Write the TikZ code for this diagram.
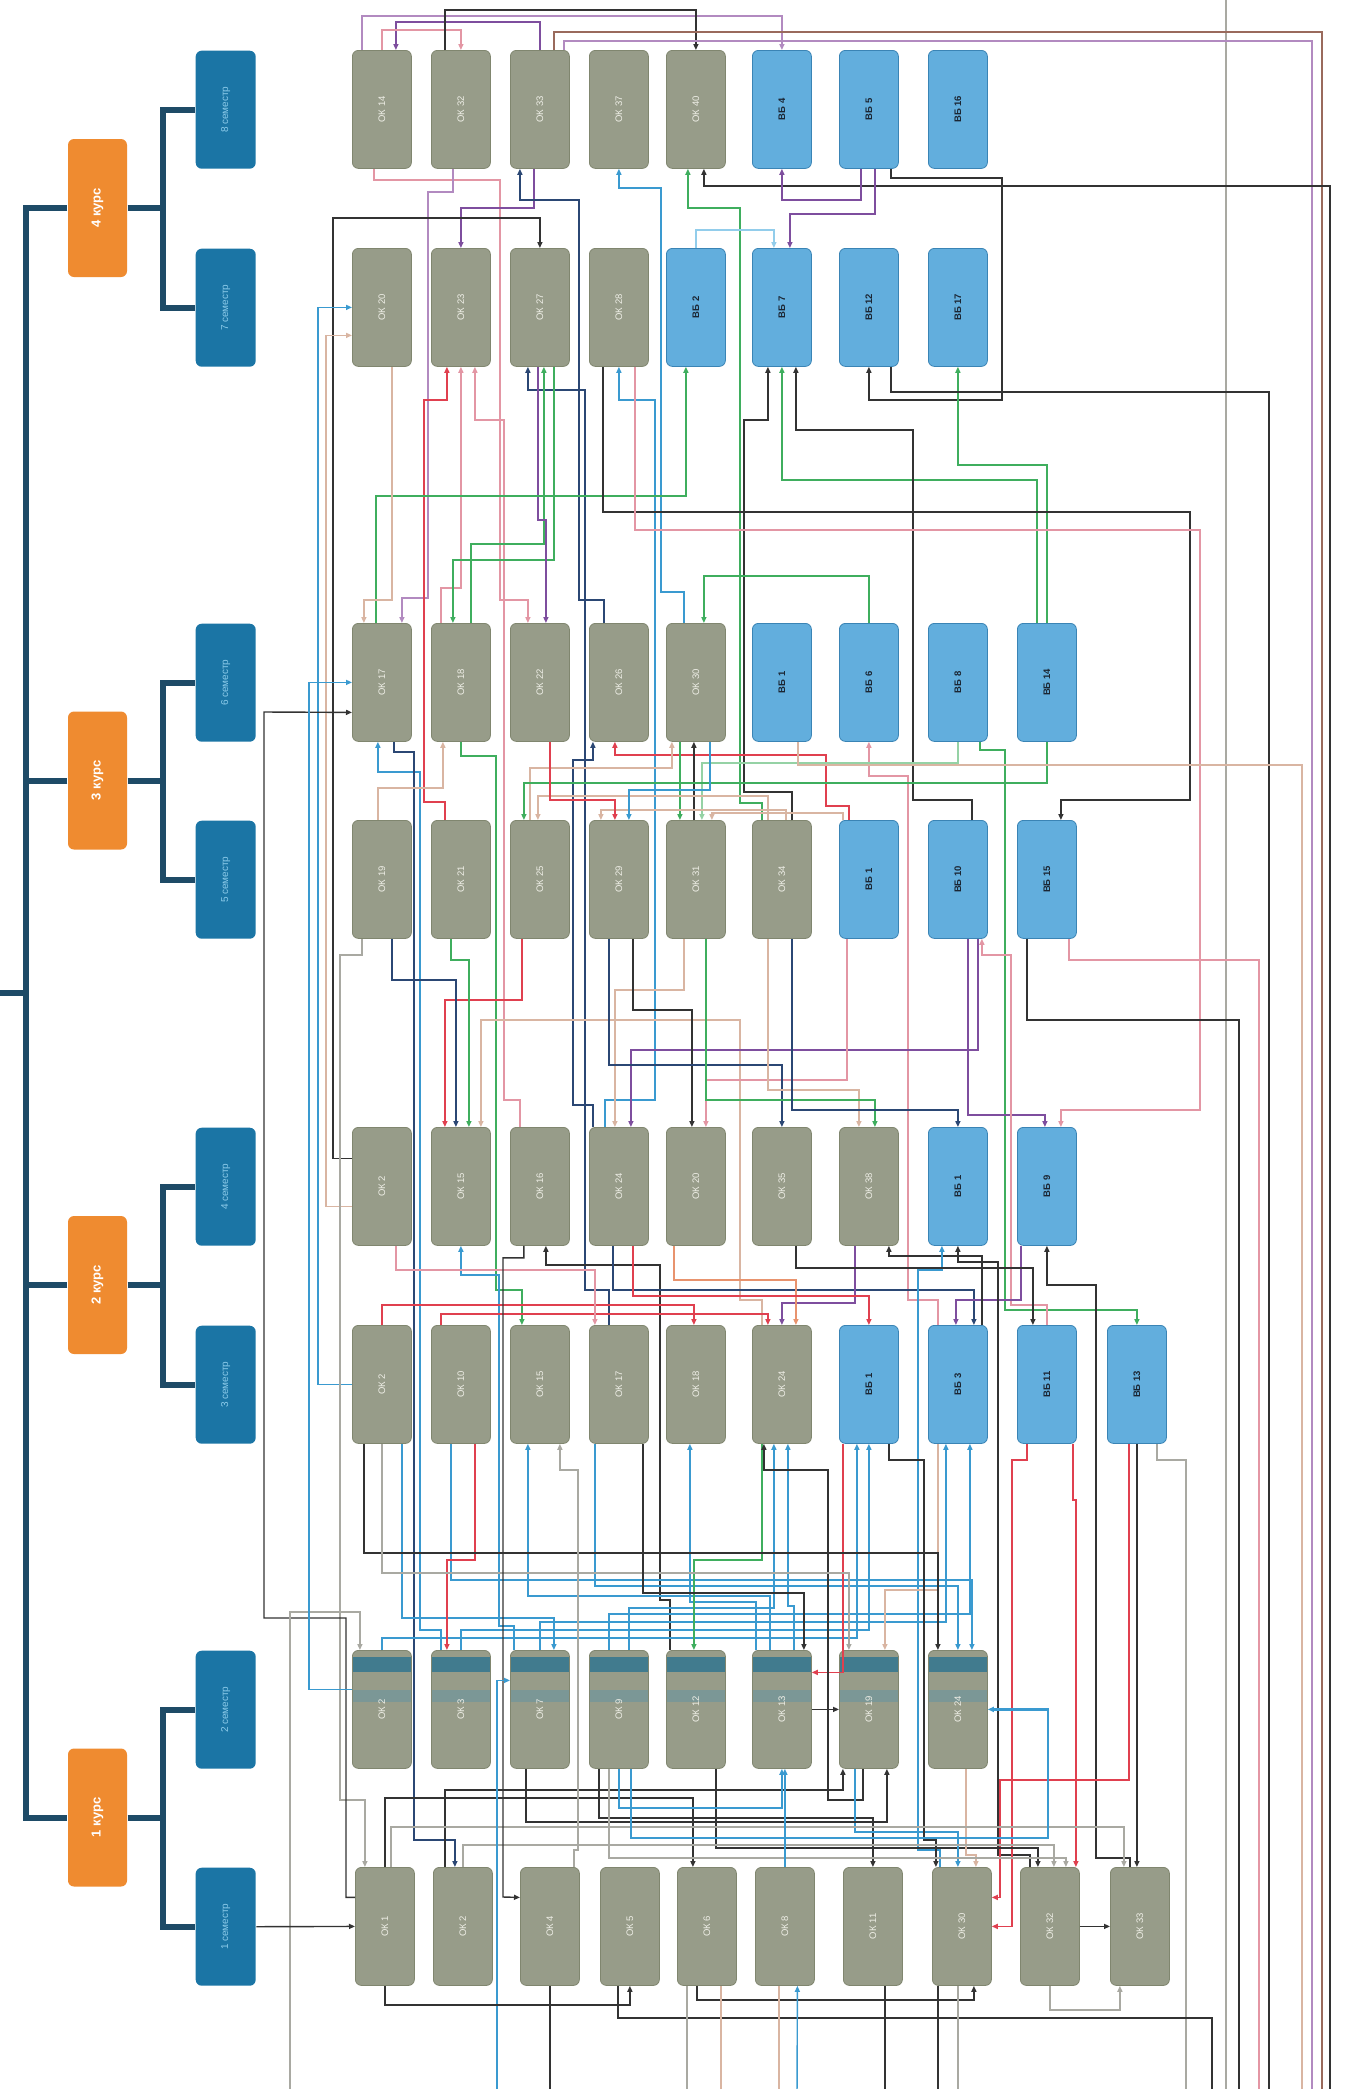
\documentclass[tikz,border=0pt]{standalone}
\usepackage{fontspec}
\setmainfont{Liberation Sans}
\usetikzlibrary{arrows.meta,calc}
\definecolor{okf}{HTML}{979C89}
\definecolor{okb}{HTML}{80866F}
\definecolor{okt}{HTML}{EEEEE6}
\definecolor{vbf}{HTML}{62AEDD}
\definecolor{vbb}{HTML}{3A84B5}
\definecolor{vbt}{HTML}{1B2633}
\definecolor{semf}{HTML}{1B75A5}
\definecolor{semt}{HTML}{8CCBEA}
\definecolor{kurf}{HTML}{EF8B30}
\definecolor{tree}{HTML}{1E4B67}
\definecolor{bandD}{HTML}{2C7390}
\definecolor{bandL}{HTML}{5B93A6}
\definecolor{cblk}{HTML}{333333}
\definecolor{cgry}{HTML}{A9A9A2}
\definecolor{ctan}{HTML}{D9B5A2}
\definecolor{cpnk}{HTML}{E396A4}
\definecolor{cred}{HTML}{E0404F}
\definecolor{cblu}{HTML}{3A9AD0}
\definecolor{clbl}{HTML}{92CDEB}
\definecolor{cgrn}{HTML}{3FAE5E}
\definecolor{clgr}{HTML}{95D2A5}
\definecolor{cpur}{HTML}{7E4E9E}
\definecolor{cpl}{HTML}{B28AC0}
\definecolor{cnav}{HTML}{2B4774}
\definecolor{cbrn}{HTML}{9A6A5C}
\definecolor{corg}{HTML}{E8936E}
\newcommand\rl[1]{\rotatebox{90}{#1}}
\newcommand\lkV[4]{\draw[#1] let \p1=(#2) in (#2) -- (\x1,-#3) -| (#4);}
\newcommand\lkH[4]{\draw[#1] let \p1=(#2) in (#2) -- (#3,\y1) |- (#4);}
\newcommand\lkVV[6]{\draw[#1] let \p1=(#2) in (#2) -- (\x1,-#3) -- (#4,-#3) -- (#4,-#5) -| (#6);}
\newcommand\toB[2]{\draw[#1] let \p1=(#2) in (#2) -- (\x1,-2100);}
\newcommand\okN[4]{\node[okn] (#1) at (#2,-#3) {\rl{#4}};}
\newcommand\vbN[4]{\node[vbn] (#1) at (#2,-#3) {\rl{#4}};}
\newcommand\bdN[4]{\node[bandn] (#1) at (#2,-#3) {\rl{#4}};}
\tikzset{
  okn/.style={draw=okb, line width=0.8pt, fill=okf, rounded corners=6pt, minimum width=59pt, minimum height=118pt, inner sep=0pt, anchor=north west, text=okt, font=\fontsize{9.5}{11}\selectfont},
  vbn/.style={okn, draw=vbb, fill=vbf, text=vbt, font=\fontsize{9.5}{11}\selectfont\bfseries},
  bandn/.style={okn, path picture={
     \fill[bandD, opacity=0.8, sharp corners] ([yshift=-7pt]path picture bounding box.north west) rectangle ([yshift=-22pt]path picture bounding box.north east);
     \fill[bandL, opacity=0.45, sharp corners] ([yshift=-40pt]path picture bounding box.north west) rectangle ([yshift=-52pt]path picture bounding box.north east);}},
  semn/.style={fill=semf, rounded corners=6pt, minimum width=60pt, minimum height=118pt, inner sep=0pt, anchor=north west, text=semt, font=\fontsize{10}{12}\selectfont},
  kurn/.style={fill=kurf, rounded corners=6pt, minimum width=59pt, minimum height=138pt, inner sep=0pt, text=white, font=\fontsize{13}{15}\selectfont\bfseries},
  treeln/.style={draw=tree, line width=6pt},
  arw/.style={-{Triangle[length=6pt,width=5pt]}},
  thk/.style={line width=2.6pt}
}
\begin{document}
\begin{tikzpicture}[x=1pt,y=1pt,line width=1.4pt]
\useasboundingbox (0,0) rectangle (1350,-2089);
\fill[white] (0,0) rectangle (1350,-2089);
\foreach \xx in {290,497,797,1186,1212,1226,1239,1259,1269,1302,1312,1322,1330} {\coordinate (ob\xx) at (\xx,-2100);}
\coordinate (ot1226) at (1226,10);
\coordinate (obase) at (0,-2100);
\coordinate (root) at (-5,-993);
% ---- tree ----
\node[kurn] (k4) at (97.5,-208) {\rl{4 курс}};
\node[kurn] (k3) at (97.5,-780.5) {\rl{3 курс}};
\node[kurn] (k2) at (97.5,-1285) {\rl{2 курс}};
\node[kurn] (k1) at (97.5,-1817.5) {\rl{1 курс}};
\node[semn] (s8) at (195,-50) {\rl{8 семестр}};
\node[semn] (s7) at (195,-248) {\rl{7 семестр}};
\node[semn] (s6) at (195,-623) {\rl{6 семестр}};
\node[semn] (s5) at (195,-820) {\rl{5 семестр}};
\node[semn] (s4) at (195,-1127) {\rl{4 семестр}};
\node[semn] (s3) at (195,-1325) {\rl{3 семестр}};
\node[semn] (s2) at (195,-1650) {\rl{2 семестр}};
\node[semn] (s1) at (195,-1867) {\rl{1 семестр}};
\draw[treeln] (k4.west) -- ++(-41,0) |- (k1.west);
\draw[treeln] (k3.west) -- ++(-41,0);
\draw[treeln] (k2.west) -- ++(-41,0);
\draw[treeln] (root) -- ++(32,0);
\draw[treeln] (k4.east) -- ++(35,0) |- (s8.west);
\draw[treeln] (k4.east) ++(35,0) |- (s7.west);
\draw[treeln] (k3.east) -- ++(35,0) |- (s6.west);
\draw[treeln] (k3.east) ++(35,0) |- (s5.west);
\draw[treeln] (k2.east) -- ++(35,0) |- (s4.west);
\draw[treeln] (k2.east) ++(35,0) |- (s3.west);
\draw[treeln] (k1.east) -- ++(35,0) |- (s2.west);
\draw[treeln] (k1.east) ++(35,0) |- (s1.west);
% ---- nodes ----
\okN{a1}{352}{50}{ОК 14}\okN{a2}{431}{50}{ОК 32}\okN{a3}{510}{50}{ОК 33}\okN{a4}{589}{50}{ОК 37}\okN{a5}{666}{50}{ОК 40}
\vbN{a6}{752}{50}{ВБ 4}\vbN{a7}{839}{50}{ВБ 5}\vbN{a8}{928}{50}{ВБ 16}
\okN{b1}{352}{248}{ОК 20}\okN{b2}{431}{248}{ОК 23}\okN{b3}{510}{248}{ОК 27}\okN{b4}{589}{248}{ОК 28}
\vbN{b5}{666}{248}{ВБ 2}\vbN{b6}{752}{248}{ВБ 7}\vbN{b7}{839}{248}{ВБ 12}\vbN{b8}{928}{248}{ВБ 17}
\okN{c1}{352}{623}{ОК 17}\okN{c2}{431}{623}{ОК 18}\okN{c3}{510}{623}{ОК 22}\okN{c4}{589}{623}{ОК 26}\okN{c5}{666}{623}{ОК 30}
\vbN{c6}{752}{623}{ВБ 1}\vbN{c7}{839}{623}{ВБ 6}\vbN{c8}{928}{623}{ВБ 8}\vbN{c9}{1017}{623}{ВБ 14}
\okN{d1}{352}{820}{ОК 19}\okN{d2}{431}{820}{ОК 21}\okN{d3}{510}{820}{ОК 25}\okN{d4}{589}{820}{ОК 29}\okN{d5}{666}{820}{ОК 31}\okN{d6}{752}{820}{ОК 34}
\vbN{d7}{839}{820}{ВБ 1}\vbN{d8}{928}{820}{ВБ 10}\vbN{d9}{1017}{820}{ВБ 15}
\okN{e1}{352}{1127}{ОК 2}\okN{e2}{431}{1127}{ОК 15}\okN{e3}{510}{1127}{ОК 16}\okN{e4}{589}{1127}{ОК 24}\okN{e5}{666}{1127}{ОК 20}\okN{e6}{752}{1127}{ОК 35}\okN{e7}{839}{1127}{ОК 38}
\vbN{e8}{928}{1127}{ВБ 1}\vbN{e9}{1017}{1127}{ВБ 9}
\okN{f1}{352}{1325}{ОК 2}\okN{f2}{431}{1325}{ОК 10}\okN{f3}{510}{1325}{ОК 15}\okN{f4}{589}{1325}{ОК 17}\okN{f5}{666}{1325}{ОК 18}\okN{f6}{752}{1325}{ОК 24}
\vbN{f7}{839}{1325}{ВБ 1}\vbN{f8}{928}{1325}{ВБ 3}\vbN{f9}{1017}{1325}{ВБ 11}\vbN{f10}{1107}{1325}{ВБ 13}
\bdN{g1}{352}{1650}{ОК 2}\bdN{g2}{431}{1650}{ОК 3}\bdN{g3}{510}{1650}{ОК 7}\bdN{g4}{589}{1650}{ОК 9}\bdN{g5}{666}{1650}{ОК 12}\bdN{g6}{752}{1650}{ОК 13}\bdN{g7}{839}{1650}{ОК 19}\bdN{g8}{928}{1650}{ОК 24}
\okN{h1}{355}{1867}{ОК 1}\okN{h2}{433}{1867}{ОК 2}\okN{h3}{520}{1867}{ОК 4}\okN{h4}{600}{1867}{ОК 5}\okN{h5}{677}{1867}{ОК 6}\okN{h6}{755}{1867}{ОК 8}\okN{h7}{843}{1867}{ОК 11}\okN{h8}{932}{1867}{ОК 30}\okN{h9}{1020}{1867}{ОК 32}\okN{h10}{1110}{1867}{ОК 33}
% ---- right long lines ----
\draw[cgry] (ot1226) -- (ob1226);
% ---- gap 0 ----
\lkV{cpur,arw}{a3.north}{22}{[xshift=14pt]a1.north}
\lkV{cpl,arw}{[xshift=-20pt]a1.north}{16}{a6.north}
\lkV{cpnk,arw}{a1.north}{30}{a2.north}
\lkV{cblk,arw}{[xshift=-16pt]a2.north}{10}{a5.north}
\lkV{cbrn}{[xshift=14pt]a3.north}{32}{ob1322}
\lkV{cpl}{[xshift=24pt]a3.north}{41}{ob1312}
% ---- gap 1 ----
\lkVV{cpnk,arw}{[xshift=-8pt]a1.south}{180}{500}{600}{[xshift=-12pt]c3.north}
\lkVV{cpl,arw}{[xshift=-8pt]a2.south}{192}{428}{598}{[xshift=20pt]c1.north}
\lkV{cpur,arw}{[xshift=-6pt]a3.south}{208}{b2.north}
\lkVV{cnav,arw}{[xshift=-15pt]c4.north}{600}{579}{200}{[xshift=-20pt]a3.south}
\lkVV{cblu,arw}{[xshift=-12pt]c5.north}{592}{661}{188}{a4.south}
\lkVV{cgrn,arw}{[xshift=-20pt]d6.north}{803}{740}{208}{[xshift=-8pt]a5.south}
\draw[cblk,arw] (ob1330) -- (1330,-186) -| ([xshift=8pt]a5.south);
\lkV{cpur,arw}{[xshift=-8pt]a7.south}{200}{a6.south}
\lkV{cpur,arw}{[xshift=6pt]a7.south}{214}{[xshift=8pt]b6.north}
\lkV{clbl,arw}{b5.north}{230}{[xshift=-8pt]b6.north}
\lkVV{cblk,arw}{[xshift=22pt]a7.south}{178}{1002}{400}{b7.south}
\draw[cblk,arw] ([yshift=28pt]e1.west) -| (333,-218) -| (b3.north);
\lkH{cblu,arw}{f1.west}{318}{b1.west}
\lkH{ctan,arw}{[yshift=-20pt]e1.west}{326}{[yshift=-28pt]b1.west}
% ---- gap 2 ----
\lkVV{cred,arw}{[xshift=-16pt]d2.north}{802}{424}{400}{[xshift=-14pt]b2.south}
\lkV{cpnk,arw}{[xshift=-20pt]c2.north}{588}{b2.south}
\lkVV{cpnk,arw}{[xshift=-20pt]e3.north}{1100}{504}{420}{[xshift=14pt]b2.south}
\lkVV{cnav,arw}{[xshift=-10pt]f4.north}{1290}{585}{390}{[xshift=-12pt]b3.south}
\lkV{cgrn,arw}{[xshift=10pt]c2.north}{544}{[xshift=4pt]b3.south}
\lkV{cgrn,arw}{[xshift=14pt]b3.south}{560}{[xshift=-8pt]c2.north}
\lkV{cpur,arw}{[xshift=-2pt]b3.south}{520}{[xshift=6pt]c3.north}
\lkVV{cblu,arw}{[xshift=-14pt]e4.north}{1100}{655}{400}{b4.south}
\lkVV{cblk,arw}{[xshift=10pt]d6.north}{792}{744}{420}{[xshift=-14pt]b6.south}
\lkV{cgrn,arw}{[xshift=-10pt]c9.north}{480}{b6.south}
\lkVV{cblk,arw}{[xshift=14pt]d8.north}{800}{913}{430}{[xshift=14pt]b6.south}
\lkV{cgrn,arw}{c9.north}{465}{b8.south}
\lkV{cgrn,arw}{c7.north}{576}{[xshift=8pt]c5.north}
\lkV{cgrn,arw}{[xshift=-6pt]c1.north}{496}{[xshift=-10pt]b5.south}
\lkV{ctan,arw}{[xshift=10pt]b1.south}{600}{[xshift=-18pt]c1.north}
\lkVV{cblk,arw}{[xshift=-16pt]b4.south}{512}{1190}{800}{[xshift=14pt]d9.north}
\lkVV{cpnk,arw}{[xshift=16pt]b4.south}{530}{1200}{1110}{[xshift=14pt]e9.north}
\lkV{cblk}{[xshift=22pt]b7.south}{392}{ob1269}
% ---- gap 3 ----
\lkVV{cblu,arw}{[xshift=-20pt]g2.north}{1630}{420}{772}{[xshift=-4pt]c1.south}
\lkVV{cnav,arw}{[xshift=12pt]c1.south}{752}{414}{1840}{[xshift=-8pt]h2.north}
\lkV{ctan,arw}{[xshift=-4pt]d1.north}{788}{[xshift=-18pt]c2.south}
\lkVV{cgrn,arw}{c2.south}{756}{496}{1290}{[xshift=-18pt]f3.north}
\lkVV{cnav,arw}{[xshift=-26pt]e4.north}{1105}{573}{760}{[xshift=-26pt]c4.south}
\lkVV{cred,arw}{[xshift=-20pt]d7.north}{806}{826}{755}{[xshift=-4pt]c4.south}
\lkV{ctan,arw}{[xshift=-10pt]d3.north}{768}{[xshift=-24pt]c5.south}
\draw[cblk,arw] ([xshift=-2pt]d5.north) -- ([xshift=-2pt]c5.south);
\draw[cgrn,arw] ([xshift=-16pt]c5.south) -- ([xshift=-16pt]d5.north);
\lkVV{cpnk,arw}{[xshift=-20pt]f8.north}{1300}{908}{776}{c7.south}
\lkV{clgr,arw}{c8.south}{763}{[xshift=6pt]d5.north}
\lkVV{cgrn,arw}{[xshift=22pt]c8.south}{750}{1005}{1310}{f10.north}
\lkV{cgrn,arw}{c9.south}{783}{[xshift=-16pt]d3.north}
\lkV{ctan,arw}{[xshift=-14pt]d6.north}{796}{[xshift=-2pt]d3.north}
\lkV{ctan,arw}{[xshift=4pt]d6.north}{810}{[xshift=-18pt]d4.north}
\lkV{cred,arw}{[xshift=10pt]c3.south}{800}{[xshift=-4pt]d4.north}
\lkV{cblu,arw}{[xshift=14pt]c5.south}{790}{[xshift=10pt]d4.north}
\lkV{ctan,arw}{[xshift=-26pt]d7.north}{813}{[xshift=16pt]d5.north}
\lkV{ctan}{[xshift=16pt]c6.south}{765}{ob1302}
% ---- gap 4 ----
\lkV{cred,arw}{[xshift=-18pt]d3.south}{1000}{[xshift=-16pt]e2.north}
\lkV{cnav,arw}{[xshift=10pt]d1.south}{980}{[xshift=-5pt]e2.north}
\lkV{cgrn,arw}{[xshift=-10pt]d2.south}{960}{[xshift=8pt]e2.north}
\lkVV{ctan,arw}{[xshift=-20pt]f6.north}{1300}{740}{1020}{[xshift=20pt]e2.north}
\lkV{ctan,arw}{[xshift=-12pt]d5.south}{990}{[xshift=-4pt]e4.north}
\lkV{cpur,arw}{[xshift=20pt]d8.south}{1050}{[xshift=12pt]e4.north}
\lkV{cblk,arw}{[xshift=14pt]d4.south}{1010}{[xshift=-4pt]e5.north}
\lkV{cpnk,arw}{[xshift=-22pt]d7.south}{1080}{[xshift=10pt]e5.north}
\lkV{cnav,arw}{[xshift=-10pt]d4.south}{1065}{e6.north}
\lkV{ctan,arw}{[xshift=-14pt]d6.south}{1090}{[xshift=-10pt]e7.north}
\lkV{cgrn,arw}{[xshift=10pt]d5.south}{1100}{[xshift=6pt]e7.north}
\lkV{cnav,thk,arw}{[xshift=10pt]d6.south}{1110}{e8.north}
\lkV{cpur,arw}{[xshift=10pt]d8.south}{1115}{[xshift=-2pt]e9.north}
\lkVV{cpnk,arw}{f9.north}{1305}{1011}{955}{[xshift=24pt]d8.south}
\lkVV{cgry,arw}{[xshift=-20pt]d1.south}{955}{340}{1800}{[xshift=-20pt]h1.north}
\lkV{cpnk}{[xshift=22pt]d9.south}{960}{ob1259}
\lkV{cblk}{[xshift=-20pt]d9.south}{1020}{ob1239}
% ---- gap 5 ----
\lkVV{cblu,thk,arw}{[xshift=-26pt]g3.north}{1626}{499}{1275}{e2.south}
\lkVV{cblk,arw}{[xshift=-26pt]g5.north}{1600}{660}{1265}{[xshift=6pt]e3.south}
\lkV{cnav,arw}{[xshift=-6pt]e4.south}{1290}{[xshift=16pt]f8.north}
\lkV{cpur,arw}{[xshift=-26pt]e9.south}{1300}{[xshift=-2pt]f8.north}
\lkV{cred,arw}{f1.north}{1305}{[xshift=-2pt]f5.north}
\lkV{cred,arw}{[xshift=-20pt]f2.north}{1314}{[xshift=-14pt]f6.north}
\lkV{cpur,arw}{[xshift=-14pt]e7.south}{1303}{f6.north}
\lkV{corg,arw}{[xshift=-22pt]e5.south}{1280}{[xshift=14pt]f6.north}
\lkV{cred,arw}{[xshift=14pt]e4.south}{1296}{f7.north}
\lkV{cblk,arw}{[xshift=24pt]f8.north}{1256}{[xshift=20pt]e7.south}
\lkVV{cblu,arw}{[xshift=-22pt]h8.north}{1850}{918}{1270}{[xshift=-16pt]e8.south}
\lkVV{cblk,arw}{[xshift=-20pt]h9.north}{1855}{998}{1262}{e8.south}
\lkVV{cblk,arw}{[xshift=-10pt]h10.north}{1858}{1096}{1285}{e9.south}
\lkV{cpnk,arw}{[xshift=14pt]e1.south}{1270}{[xshift=-24pt]f4.north}
\lkV{cblk,arw}{[xshift=14pt]e6.south}{1268}{[xshift=-14pt]f9.north}
% ---- gap 6 ----
\lkV{cblu,arw}{g1.north}{1638}{[xshift=-12pt]f7.south}
\lkV{cblu,arw}{g2.north}{1630}{f7.south}
\lkV{cblu,arw}{g3.north}{1622}{[xshift=-12pt]f8.south}
\lkV{cblu,arw}{[xshift=-10pt]g4.north}{1614}{[xshift=12pt]f8.south}
\lkV{cblu,arw}{[xshift=10pt]g4.north}{1608}{[xshift=-8pt]f6.south}
\lkV{cblu,arw}{[xshift=-26pt]g6.north}{1602}{[xshift=-6pt]f5.south}
\lkV{cblu,arw}{[xshift=-12pt]g6.north}{1596}{[xshift=-12pt]f3.south}
\lkV{cblu,arw}{[xshift=12pt]g6.north}{1606}{[xshift=6pt]f6.south}
\lkV{cblu,arw}{[xshift=-24pt]f4.south}{1586}{g8.north}
\lkV{cblu,arw}{[xshift=-10pt]f2.south}{1580}{[xshift=14pt]g8.north}
\lkV{cblu,arw}{[xshift=20pt]f1.south}{1618}{[xshift=14pt]g3.north}
\lkV{cred,arw}{[xshift=14pt]f2.south}{1560}{[xshift=-14pt]g2.north}
\lkV{cgrn,arw}{[xshift=-20pt]f6.south}{1560}{[xshift=-2pt]g5.north}
\lkV{ctan,arw}{[xshift=-20pt]f8.south}{1590}{[xshift=16pt]g7.north}
\draw[cred,arw] ([xshift=-26pt]f7.south) |- ([yshift=37pt]g6.east);
\lkVV{cblk,arw}{[xshift=-6pt]g7.south}{1800}{828}{1470}{[xshift=-18pt]f6.south}
\lkV{cblk,arw}{[xshift=-18pt]f1.south}{1553}{[xshift=-20pt]g8.north}
\lkV{cgry,arw}{f1.south}{1573}{[xshift=-20pt]g7.north}
\lkV{cblk,arw}{[xshift=24pt]f4.south}{1593}{[xshift=22pt]g6.north}
\draw[cblk,arw] ([yshift=29pt]h1.west) -| (346,-1618) -| (264,-712) -- ([yshift=-30pt]c1.west);
\draw[cgry,arw] (ob290) -- (290,-1612) -| ([xshift=-22pt]g1.north);
\lkH{cblu,arw}{[yshift=20pt]g1.west}{309}{c1.west}
\draw[cred,arw] ([xshift=-8pt]f10.south) |- (1000,-1780) |- ([yshift=29pt]h8.east);
\draw[cred,arw] ([xshift=-20pt]f9.south) |- (1012,-1460) |- (h8.east);
\lkV{cred,arw}{[xshift=26pt]f9.south}{1500}{[xshift=26pt]h9.north}
\draw[cblk,arw] (f10.south) -- (f10.south |- h10.north);
\lkV{cgry}{[xshift=20pt]f10.south}{1460}{ob1186}
% ---- gap 7 ----
\draw[cblk,arw] (g6.east) -- (g7.west);
\draw[cblk,arw] (h9.east) -- (h10.west);
\draw[cblk,arw] (s1.east) -- (h1.west);
\lkV{cblk,arw}{[xshift=20pt]g5.south}{1848}{[xshift=-12pt]h9.north}
\lkV{cblk,arw}{[xshift=-20pt]g4.south}{1818}{h7.north}
\lkV{cblu,arw}{[xshift=-14pt]g7.south}{1832}{[xshift=-4pt]h8.north}
\lkV{ctan,arw}{[xshift=8pt]g8.south}{1855}{[xshift=14pt]h8.north}
\lkVV{cblk,arw}{[xshift=20pt]f7.south}{1460}{924}{1840}{[xshift=-26pt]h8.north}
\lkV{cblk,arw}{[xshift=-18pt]h2.north}{1790}{[xshift=-26pt]g7.south}
\lkV{cblk,arw}{[xshift=-14pt]g3.south}{1822}{[xshift=18pt]g7.south}
\lkV{cblk,arw}{h1.north}{1798}{[xshift=-14pt]h5.north}
\lkV{cgry,arw}{[xshift=6pt]h1.north}{1827}{[xshift=-16pt]h10.north}
\lkV{cgry,arw}{h2.north}{1845}{[xshift=4pt]h9.north}
\lkV{cgry,arw}{[xshift=-10pt]g4.south}{1858}{[xshift=16pt]h9.north}
\lkV{cblu,thk,arw}{g4.south}{1808}{g6.south}
\draw[cblu,thk,arw] ([xshift=12pt]g4.south) |- (1048,-1838) |- (g8.east);
\draw[cblu,arw] (h6.north) -- (h6.north |- g6.south);
\draw[cblk,arw] ([xshift=-16pt]e3.south) -- ++(0,-12) -| (503,-1897) -- ([yshift=29pt]h3.west);
\draw[cblu,arw] (ob497) |- ([yshift=29pt]g3.west);
\lkVV{cgry,arw}{[xshift=24pt]h3.north}{1850}{578}{1470}{[xshift=20pt]f3.south}
% ---- gap 8 ----
\lkV{cblk,arw}{h1.south}{2005}{h4.south}
\lkV{cblk,arw}{[xshift=-10pt]h5.south}{2000}{[xshift=12pt]h8.south}
\lkV{cblk}{[xshift=-12pt]h4.south}{2018}{ob1212}
\lkV{cgry,arw}{h9.south}{2010}{[xshift=-20pt]h10.south}
\draw[cblu,arw] (ob797) -- ([xshift=12.5pt]h6.south);
\draw[cblk] (h3.south) -- (h3.south |- obase);
\toB{cblk}{[xshift=-24pt]h8.south}
\toB{cgry}{[xshift=-4pt]h8.south}
\toB{cgry}{[xshift=-20pt]h5.south}
\toB{ctan}{[xshift=-6pt]h6.south}
\toB{cblk}{[xshift=12pt]h7.south}
\toB{ctan}{[xshift=14pt]h5.south}
\end{tikzpicture}
\end{document}
